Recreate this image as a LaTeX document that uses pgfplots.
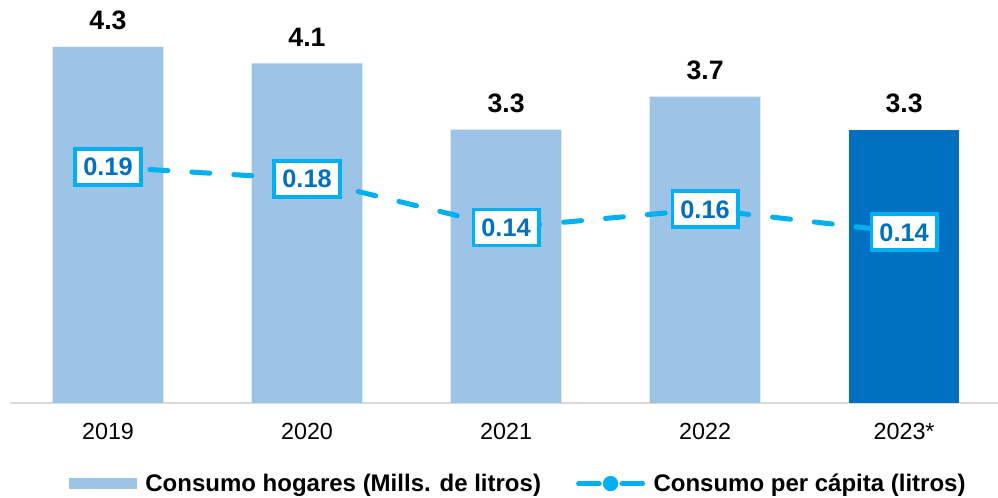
\documentclass[border=0pt]{standalone}
\usepackage{pgfplots}
\pgfplotsset{compat=1.18}
\usepackage{fontspec}
\setmainfont{Liberation Sans}
\definecolor{LightBar}{RGB}{157,195,230}
\definecolor{DarkBar}{RGB}{0,112,192}
\definecolor{CyanLine}{RGB}{0,176,240}
\definecolor{LabelBlue}{RGB}{0,112,192}
\definecolor{AxisGray}{RGB}{217,217,217}

\pgfplotsset{
  common/.style={
    at={(7.5pt,71.25pt)}, anchor=south west,
    width=741pt, height=302.25pt, scale only axis,
    xmin=-0.4925, xmax=4.472, clip=false,
  },
}

\begin{document}
\begin{tikzpicture}
\useasboundingbox (0,0) rectangle (748.5pt,373.5pt);
% bars: household consumption
\begin{axis}[common,
    ymin=0, ymax=4.867,
    axis y line=none, axis x line*=bottom,
    x axis line style={draw=AxisGray, line width=1.5pt},
    xtick={0,1,2,3,4}, xticklabels={2019,2020,2021,2022,2023*},
    major tick length=0pt,
    xticklabel style={font=\fontsize{17.5}{20}\selectfont, yshift=-11.5pt},
    legend columns=2,
    legend style={draw=none, fill=none, at={(0.515,-0.2)}, anchor=center,
      font=\bfseries\fontsize{18}{21}\selectfont,
      /tikz/every odd column/.append style={column sep=4pt},
      /tikz/every even column/.append style={column sep=24pt}},
    legend cell align=left,
  ]
  \addplot[ybar, bar width=83pt, bar shift=0pt, fill=LightBar, draw=none,
    nodes near coords, point meta=explicit symbolic,
    every node near coord/.append style={font=\bfseries\fontsize{20}{24}\selectfont,
      text=black, inner sep=0pt, anchor=south, yshift=12.75pt},
    legend image code/.code={\fill[LightBar] (0pt,-4.1pt) rectangle (51pt,4.1pt);}]
    table[meta=lab] {
      x y lab
      0 4.3 4.3
      1 4.1 4.1
      2 3.3 3.3
      3 3.7 3.7
    };
  \addlegendentry{Consumo hogares (Mills. de litros)}
  \addplot[ybar, bar width=83pt, bar shift=0pt, fill=DarkBar, draw=none, forget plot,
    nodes near coords, point meta=explicit symbolic,
    every node near coord/.append style={font=\bfseries\fontsize{20}{24}\selectfont,
      text=black, inner sep=0pt, anchor=south, yshift=12.75pt}]
    table[meta=lab] {
      x y lab
      4 3.3 3.3
    };
  \addlegendimage{legend image code/.code={
      \fill[white] (0pt,-1pt) rectangle (52pt,1pt);
      \draw[CyanLine, line width=3.75pt, line cap=round] (2pt,0pt) -- (17.5pt,0pt);
      \draw[CyanLine, line width=3.75pt, line cap=round] (34.5pt,0pt) -- (50pt,0pt);
      \fill[CyanLine] (26pt,0pt) circle (5.5pt);}}
  \addlegendentry{Consumo per cápita (litros)}
\end{axis}
% line: per capita consumption
\begin{axis}[common,
    ymin=-0.005, ymax=0.328,
    axis lines=none,
  ]
  \addplot[CyanLine, line width=3.75pt, line cap=round,
    dash pattern=on 13.5pt off 18pt, mark=none,
    nodes near coords, point meta=explicit symbolic,
    every node near coord/.append style={anchor=center,
      font=\bfseries\fontsize{19}{22}\selectfont, text=LabelBlue,
      draw=CyanLine, line width=2.8pt, fill=white, solid,
      minimum width=49pt, minimum height=27pt, inner sep=2pt}]
    table[meta=lab] {
      x y lab
      0 0.190 0.19
      1 0.180 0.18
      2 0.140 0.14
      3 0.155 0.16
      4 0.136 0.14
    };
\end{axis}
\end{tikzpicture}
\end{document}
